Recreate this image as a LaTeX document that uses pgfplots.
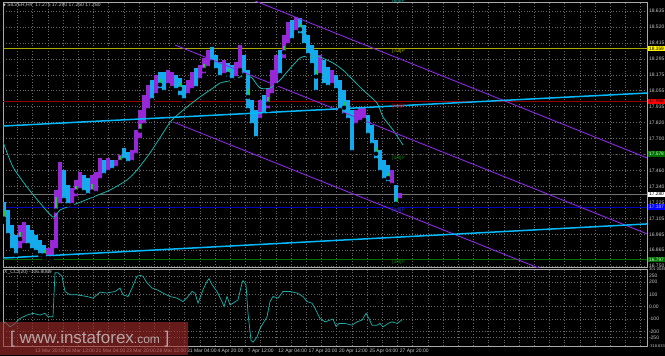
\documentclass[border=0pt]{standalone}
\usepackage{pgfplots}
\usepackage{pgfplotstable}
\pgfplotsset{compat=1.18}
\usepackage{fontspec}
\setmainfont{Liberation Sans}
\newfontfamily\dejavu{DejaVu Sans}
\definecolor{bullc}{RGB}{150,40,215}
\definecolor{bearc}{RGB}{20,170,235}
\definecolor{bodyc}{RGB}{40,200,60}
\definecolor{mac}{RGB}{32,178,170}
\definecolor{trendc}{RGB}{0,185,255}
\definecolor{chanc}{RGB}{138,43,226}
\definecolor{yel}{RGB}{170,170,0}
\definecolor{redl}{RGB}{150,0,0}
\definecolor{grn}{RGB}{0,110,0}
\definecolor{bluel}{RGB}{0,0,190}
\definecolor{gridc}{RGB}{105,105,105}
\definecolor{txt}{RGB}{200,200,200}
\definecolor{frame}{RGB}{170,170,170}
\definecolor{bidc}{RGB}{115,115,115}
\definecolor{wmred}{RGB}{165,45,45}

\pgfplotstableread{
x lo hi
20 16.868 17.053
24 16.905 17.075
48 16.809 16.883
52 16.809 16.942
56 16.868 17.312
60 17.201 17.519
72 17.201 17.327
76 17.253 17.386
80 17.312 17.445
92 17.275 17.423
96 17.290 17.445
100 17.386 17.549
108 17.445 17.549
116 17.475 17.534
120 17.497 17.571
132 17.519 17.608
136 17.571 17.756
140 17.682 17.903
144 17.792 18.014
148 17.903 18.088
156 18.014 18.162
168 18.088 18.199
172 18.066 18.184
188 18.014 18.125
192 18.051 18.184
200 18.125 18.236
204 18.162 18.288
208 18.214 18.347
224 18.162 18.273
236 18.140 18.258
240 18.199 18.384
260 17.830 17.977
268 17.903 18.066
272 18.014 18.199
276 18.088 18.310
284 18.273 18.458
288 18.384 18.554
296 18.480 18.591
320 18.162 18.310
332 18.088 18.199
356 17.792 17.903
360 17.815 17.918
364 17.830 17.918
392 17.349 17.460
400 17.238 17.290
}\upbars

\pgfplotstableread{
x lo hi
4 17.075 17.223
8 16.979 17.164
12 16.868 17.053
16 16.831 16.979
28 16.905 17.053
32 16.868 17.016
36 16.854 16.979
40 16.831 16.942
44 16.809 16.905
64 17.238 17.460
68 17.201 17.349
84 17.297 17.423
88 17.275 17.401
104 17.423 17.534
112 17.460 17.534
124 17.534 17.623
128 17.512 17.593
152 17.977 18.125
160 18.051 18.184
164 18.037 18.184
176 18.051 18.162
180 18.000 18.140
184 17.977 18.088
196 18.066 18.214
212 18.258 18.369
216 18.199 18.310
220 18.147 18.258
228 18.140 18.251
232 18.125 18.236
244 18.162 18.310
248 17.903 18.199
252 17.792 17.977
256 17.696 17.903
264 17.866 18.014
280 18.162 18.347
292 18.421 18.569
300 18.458 18.584
304 18.384 18.532
308 18.310 18.458
312 18.236 18.384
316 18.037 18.347
324 18.088 18.273
328 18.074 18.221
336 18.051 18.162
340 17.903 18.125
344 17.866 18.051
348 17.830 17.977
352 17.593 17.903
368 17.719 17.866
372 17.645 17.792
376 17.534 17.682
380 17.445 17.608
384 17.386 17.534
388 17.364 17.497
396 17.186 17.349
}\downbars

\pgfplotstableread{
x lo hi
4 17.100 17.160
20 16.950 17.000
44 16.830 16.870
56 17.160 17.260
76 17.300 17.340
92 17.300 17.360
120 17.520 17.560
140 17.750 17.800
160 18.090 18.130
180 18.060 18.100
204 18.200 18.240
228 18.170 18.210
248 18.000 18.060
268 17.950 18.000
284 18.330 18.380
300 18.500 18.540
316 18.150 18.200
344 17.920 17.960
376 17.580 17.620
388 17.400 17.440
396 17.210 17.250
}\bodies

\begin{document}
\begin{tikzpicture}
\useasboundingbox (0pt,0pt) rectangle (665pt,356pt);
\fill[black] (0pt,0pt) rectangle (665pt,356pt);

% ---------- main price panel ----------
\begin{axis}[
  at={(3pt,88.5pt)}, anchor=south west, scale only axis,
  width=644pt, height=265.5pt,
  xmin=3, xmax=647, ymin=16.739, ymax=18.702,
  axis line style={draw=frame, line width=0.6pt},
  ytick={18.636,18.518,18.400,18.282,18.164,18.046,17.928,17.810,17.692,17.574,17.456,17.338,17.220,17.102,16.984,16.867,16.749},
  yticklabels={18.635,18.520,18.415,18.295,18.175,18.055,17.935,17.820,17.700,17.580,17.460,17.340,17.225,17.105,16.985,16.865,16.750},
  yticklabel pos=right,
  yticklabel style={anchor=west, xshift=-1.5pt},
  xtick={2.2,17.4,...,641}, xticklabels={},
  tick style={draw=none},
  grid=major,
  grid style={draw=gridc, dash pattern=on 0.8pt off 2pt, line width=0.45pt},
  ticklabel style={font=\fontsize{5}{6}\selectfont, text=txt},
  clip=true,
]
% level lines
\addplot[yel, line width=0.8pt] coordinates {(3,18.359) (647,18.359)};
\addplot[redl, line width=0.8pt] coordinates {(3,17.968) (647,17.968)};
\addplot[grn, line width=0.6pt, dash pattern=on 1pt off 1pt] coordinates {(3,17.578) (647,17.578)};
\addplot[bidc, line width=0.9pt] coordinates {(3,17.280) (647,17.280)};
\addplot[bluel, line width=0.6pt] coordinates {(3,17.187) (647,17.187)};
\addplot[grn, line width=0.8pt] coordinates {(3,16.797) (647,16.797)};
% bars
\addplot[only marks, mark=none, error bars/.cd, y dir=plus, y explicit, error mark=none,
  error bar style={line width=3.3pt, color=bullc}]
  table[x=x, y=lo, y error expr=\thisrow{hi}-\thisrow{lo}] {\upbars};
\addplot[only marks, mark=none, error bars/.cd, y dir=plus, y explicit, error mark=none,
  error bar style={line width=3.3pt, color=bearc}]
  table[x=x, y=lo, y error expr=\thisrow{hi}-\thisrow{lo}] {\downbars};
\addplot[only marks, mark=none, error bars/.cd, y dir=plus, y explicit, error mark=none,
  error bar style={line width=2pt, color=bodyc}]
  table[x=x, y=lo, y error expr=\thisrow{hi}-\thisrow{lo}] {\bodies};
% moving average
\addplot[mac, line width=0.8pt, smooth, tension=0.4] coordinates {
(3,17.667) (13,17.482) (27,17.334) (40,17.216) (53,17.112) (60,17.164) (73,17.201)
(93,17.260) (110,17.312) (127,17.386) (137,17.460) (150,17.586) (163,17.733)
(172,17.830) (187,17.926) (200,18.000) (213,18.066) (220,18.103) (233,18.125)
(245,18.162) (252,18.140) (260,18.066) (270,18.066) (280,18.125) (287,18.184)
(300,18.288) (310,18.303) (320,18.295) (333,18.251) (343,18.199) (353,18.125)
(363,18.051) (377,17.955) (383,17.852) (393,17.756) (403,17.645)};
% channel lines
\addplot[chanc, line width=0.9pt] coordinates {(255,18.710) (647,17.549)};
\addplot[chanc, line width=0.9pt] coordinates {(175,18.384) (647,16.988)};
\addplot[chanc, line width=0.9pt] coordinates {(173,17.815) (560,16.672)};
% trend lines
\addplot[trendc, line width=1.5pt] coordinates {(3,17.785) (647,18.029)};
\addplot[trendc, line width=1.5pt] coordinates {(3,16.809) (647,17.061)};
\end{axis}

% ---------- CCI panel ----------
\begin{axis}[
  at={(3pt,10pt)}, anchor=south west, scale only axis,
  width=644pt, height=76.5pt,
  xmin=3, xmax=647, ymin=-318.633, ymax=301.0049,
  axis line style={draw=frame, line width=0.6pt},
  ytick={250,200,100,0,-100,-200,-250},
  yticklabels={250,200,100,0.00,-100,-200,-250},
  extra y ticks={301.0049,-318.633},
  extra y tick labels={301.0049,-318.633},
  extra y tick style={grid=none, yticklabel style={font=\fontsize{4}{4.5}\selectfont}},
  yticklabel pos=right,
  yticklabel style={anchor=west, xshift=-1.5pt},
  xtick={2.2,17.4,...,641},
  xticklabels={9 Mar 2017,,13 Mar 20:00,,16 Mar 12:00,,21 Mar 04:00,,23 Mar 20:00,,28 Mar 12:00,,31 Mar 04:00,,4 Apr 20:00,,7 Apr 12:00,,12 Apr 04:00,,17 Apr 20:00,,20 Apr 12:00,,25 Apr 04:00,,27 Apr 20:00},
  xticklabel style={anchor=north west, xshift=-1pt, yshift=0.5pt},
  tick style={draw=none},
  grid=major,
  grid style={draw=gridc, dash pattern=on 0.8pt off 2pt, line width=0.45pt},
  ticklabel style={font=\fontsize{5}{6}\selectfont, text=txt},
  clip=true,
]
\addplot[mac, line width=0.7pt] coordinates {
(3,-150) (5,-123) (10,-164) (15,-136) (20,-95) (27,-68) (33,-54) (40,-68) (45,-54)
(48,-82) (53,-82) (55,274) (58,274) (62,246) (65,123) (70,96) (77,96) (87,82)
(93,69) (97,96) (100,118) (107,110) (115,123) (120,151) (123,96) (128,82) (132,151)
(137,246) (140,254) (143,246) (147,192) (152,151) (157,137) (163,110) (170,82)
(177,69) (183,41) (188,82) (192,123) (195,110) (198,28) (203,137) (207,205) (209,227)
(212,178) (217,123) (222,41) (224,0) (227,82) (230,14) (233,28) (238,55) (242,192)
(243,211) (246,178) (248,-54) (251,-273) (253,-287) (257,-246) (260,-177) (267,-82)
(270,41) (273,82) (278,69) (283,123) (290,123) (297,110) (303,82) (307,41) (312,28)
(315,-13) (320,-95) (325,-123) (330,-109) (333,-100) (336,-160) (339,-136) (345,-136)
(352,-150) (357,-123) (362,-109) (366,-54) (368,-82) (372,-150) (377,-150) (380,-136)
(383,-164) (388,-136) (392,-123) (397,-136) (402,-107)};
\end{axis}

% ---------- texts ----------
\node[anchor=west, inner sep=0pt, text=txt, font=\fontsize{5}{6}\selectfont] at (3pt,351pt)
  {{\dejavu\fontsize{3.5}{4}\selectfont ▼}\ SILVER,H4\ \ 17.275 17.290 17.260 17.280};
\node[anchor=west, inner sep=0pt, text=txt, font=\fontsize{5}{6}\selectfont] at (4pt,84pt)
  {X\_CCI(20) -106.8069};

% level line tags
\begin{scope}[font=\fontsize{4.8}{5}\selectfont, inner sep=0pt, anchor=west]
\node[text=mac] at (392pt,355pt) {[8/8]P};
\node[text=yel] at (392pt,304.5pt) {[7/8]P};
\node[text=red!80!black] at (392pt,250pt) {[6/8]P};
\node[text=grn!90!white] at (392pt,198pt) {[5/8]P};
\node[text=bluel!80!white] at (392pt,145.5pt) {[4/8]P};
\node[text=grn!90!white] at (392pt,94pt) {[3/8]P};
\end{scope}

% price tags on the right axis
\begin{scope}[font=\fontsize{4.8}{5}\selectfont, inner xsep=0.6pt, inner ysep=0.9pt, minimum width=17pt]
\node[fill=yellow, text=black] at (656.5pt,307.6pt) {18.359};
\node[fill=red, text=black] at (656.5pt,254.7pt) {17.968};
\node[fill=grn, text=white!80!green] at (656.5pt,202pt) {17.578};
\node[fill=white, text=black] at (656.5pt,161.7pt) {17.280};
\node[fill=blue, text=white!80!blue] at (656.5pt,149pt) {17.187};
\node[fill=grn, text=white!80!green] at (656.5pt,96.4pt) {16.797};
\end{scope}

% watermark
\fill[wmred, opacity=0.62] (0pt,1pt) rectangle (188pt,34pt);
\node[anchor=west, inner sep=0pt, text=gray!35!white, opacity=0.75] at (10pt,17pt)
  {\fontsize{17}{17}\selectfont [ www.instaforex{\fontsize{12}{12}\selectfont .com} ]};
\end{tikzpicture}
\end{document}
